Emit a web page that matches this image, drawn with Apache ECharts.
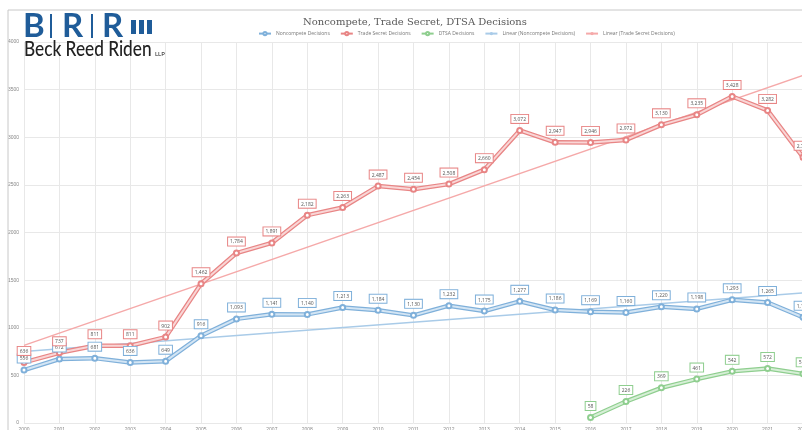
<!DOCTYPE html>
<html>
<head>
<meta charset="utf-8">
<script src="https://cdn.jsdelivr.net/npm/echarts@6/dist/echarts.min.js"></script>
<style>
  html, body { margin: 0; padding: 0; background: #fff; }
  #main { width: 802px; height: 430px; }
</style>
</head>
<body>
<div id="main"></div>
<script>
// 数据
var years = ['2000','2001','2002','2003','2004','2005','2006','2007','2008','2009','2010',
  '2011','2012','2013','2014','2015','2016','2017','2018','2019','2020','2021','2022'];
var noncompete = [556, 672, 681, 636, 649, 916, 1093, 1141, 1140, 1213, 1184,
  1130, 1232, 1175, 1277, 1186, 1169, 1160, 1220, 1198, 1293, 1265, 1110];
var tradeSecret = [636, 737, 811, 811, 902, 1462, 1784, 1891, 2182, 2263, 2487,
  2454, 2508, 2660, 3072, 2947, 2946, 2972, 3130, 3235, 3428, 3282, 2790];
var dtsa = [null, null, null, null, null, null, null, null, null, null, null,
  null, null, null, null, null, 58, 226, 369, 461, 542, 572, 516];
// 趋势线两端
var ncTrend = [['2000', 750], ['2022', 1365]];
var tsTrend = [['2000', 815], ['2022', 3650]];
var yTicks = { min: 0, max: 4000, interval: 500 };

var fmt = function (p) { return Number(p.value).toLocaleString('en-US'); };

function mainSeries(name, data, dark) {
  return {
    name: name, type: 'line', data: data, z: 3,
    symbol: 'emptyCircle', symbolSize: 5,
    lineStyle: { color: dark, width: 4.5 },
    itemStyle: { color: dark, borderColor: dark, borderWidth: 1 },
    label: {
      show: true, position: 'top', distance: 4, formatter: fmt,
      fontSize: 5, color: '#555', fontFamily: 'Open Sans',
      backgroundColor: '#fff', borderColor: dark, borderWidth: 1,
      padding: [2, 2, 1, 2]
    },
    emphasis: { disabled: true }
  };
}
function innerSeries(data, light) {
  return {
    type: 'line', data: data, z: 3, silent: true,
    symbol: 'none', lineStyle: { color: light, width: 2 },
    emphasis: { disabled: true }, tooltip: { show: false }
  };
}

var chart = echarts.init(document.getElementById('main'));
chart.setOption({
  animation: false,
  title: {
    text: 'Noncompete, Trade Secret, DTSA Decisions',
    left: 410, textAlign: 'center', top: 12,
    textStyle: { fontFamily: 'DejaVu Serif', fontSize: 10, fontWeight: 'normal', color: '#595959' }
  },
  legend: {
    top: 26, left: 253, itemWidth: 12, itemHeight: 4, itemGap: 10,
    textStyle: { fontSize: 5, color: '#777', fontFamily: 'Open Sans' },
    data: ['Noncompete Decisions', 'Trade Secret Decisions', 'DTSA Decisions',
      'Linear (Noncompete Decisions)', 'Linear (Trade Secret Decisions)']
  },
  grid: { left: 24, right: -1, top: 42, bottom: 7, outerBoundsMode: 'none' },
  xAxis: {
    type: 'category', data: years, boundaryGap: false,
    axisLine: { show: false }, axisTick: { show: false },
    axisLabel: { fontSize: 5, color: '#888', margin: 4, interval: 0 },
    splitLine: { show: true, lineStyle: { color: '#e8e8e8', width: 1 } }
  },
  yAxis: {
    type: 'value', min: yTicks.min, max: yTicks.max, interval: yTicks.interval,
    axisLine: { show: false }, axisTick: { show: false },
    axisLabel: { fontSize: 5, color: '#888', margin: 5, formatter: function (v) { return String(v); } },
    splitLine: { lineStyle: { color: '#e8e8e8', width: 1 } }
  },
  graphic: [
    { type: 'polyline', shape: { points: [[8, 430], [8, 10], [802, 10]] },
      style: { stroke: '#c8c8c8', lineWidth: 1, fill: null }, z: 1 },
    // logo
    { type: 'text', left: 23, top: 10, z: 100,
      style: { text: 'B', font: 'bold 33px Lato', fill: '#1f5c99' } },
    { type: 'rect', shape: { x: 50, y: 14, width: 2, height: 24 }, style: { fill: '#1f5c99' }, z: 100 },
    { type: 'text', left: 62, top: 10, z: 100,
      style: { text: 'R', font: 'bold 33px Lato', fill: '#1f5c99' } },
    { type: 'rect', shape: { x: 91, y: 14, width: 2, height: 24 }, style: { fill: '#1f5c99' }, z: 100 },
    { type: 'text', left: 102, top: 10, z: 100,
      style: { text: 'R', font: 'bold 33px Lato', fill: '#1f5c99' } },
    { type: 'rect', shape: { x: 131, y: 20, width: 5, height: 14 }, style: { fill: '#1f5c99' }, z: 100 },
    { type: 'rect', shape: { x: 139, y: 20, width: 5, height: 14 }, style: { fill: '#1f5c99' }, z: 100 },
    { type: 'rect', shape: { x: 147, y: 20, width: 5, height: 14 }, style: { fill: '#1f5c99' }, z: 100 },
    { type: 'text', x: 24, y: 39, scaleX: 0.82, z: 100,
      style: { text: 'Beck Reed Riden', font: '500 21px Lato', fill: '#222' } },
    { type: 'text', left: 155, top: 51, z: 100,
      style: { text: 'LLP', font: '6px Lato', fill: '#222' } }
  ],
  series: [
    {
      name: 'Linear (Noncompete Decisions)', type: 'line', data: ncTrend, z: 2,
      symbol: 'none', lineStyle: { color: '#a9cbe8', width: 1.5 },
      itemStyle: { color: '#a9cbe8' }, emphasis: { disabled: true }
    },
    {
      name: 'Linear (Trade Secret Decisions)', type: 'line', data: tsTrend, z: 2,
      symbol: 'none', lineStyle: { color: '#f5a9a9', width: 1.5 },
      itemStyle: { color: '#f5a9a9' }, emphasis: { disabled: true }
    },
    mainSeries('Noncompete Decisions', noncompete, '#7fb0da'),
    innerSeries(noncompete, '#d3e5f4'),
    mainSeries('Trade Secret Decisions', tradeSecret, '#e88585'),
    innerSeries(tradeSecret, '#f9d6d6'),
    mainSeries('DTSA Decisions', dtsa, '#8fce8f'),
    innerSeries(dtsa, '#d6efd6')
  ]
});
</script>
</body>
</html>
